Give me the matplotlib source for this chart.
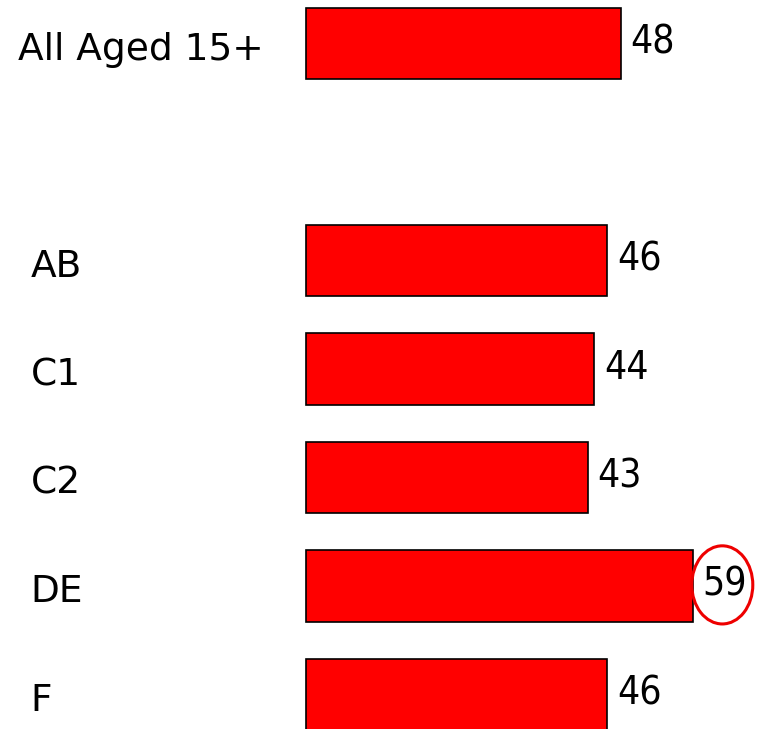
import matplotlib
matplotlib.use('Agg')
import matplotlib.pyplot as plt
from matplotlib.patches import Ellipse

labels = ['All Aged 15+', 'AB', 'C1', 'C2', 'DE', 'F']
values = [48, 46, 44, 43, 59, 46]
positions = [0, 2, 3, 4, 5, 6]  # gap after the total row
highlight = 'DE'

fig = plt.figure(figsize=(7.61, 7.29), dpi=100)
ax = fig.add_axes([0, 0, 1, 1])

ax.barh(positions, values, height=0.66, color='#ff0000', edgecolor='black', linewidth=1.2)

for lab, val, pos in zip(labels, values, positions):
    lx = -43.9 if pos == 0 else -41.9
    ax.text(lx, pos + 0.06, lab, ha='left', va='center', fontsize=27)
    ax.text(val + 1.5, pos - 0.01, str(val), ha='left', va='center', fontsize=28,
            fontstretch='condensed')
    if lab == highlight:
        ax.add_patch(Ellipse((val + 4.5, pos - 0.01), 9.3, 0.72, fill=False,
                             edgecolor='#ee0000', linewidth=2.2))

ax.set_xlim(-46.6, 69.4)
ax.set_ylim(6.318, -0.40)
ax.axis('off')

fig.savefig('out.png', dpi=100)
